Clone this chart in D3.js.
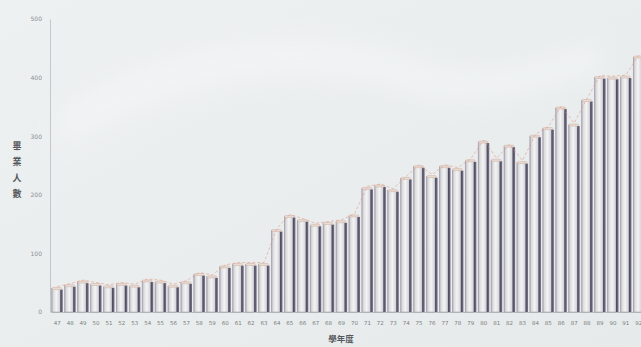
<!DOCTYPE html>
<html><head><meta charset="utf-8">
<script src="https://cdn.jsdelivr.net/npm/d3@7"></script>
<style>
html,body{margin:0;padding:0;background:#e8eced;}
svg{display:block;}
</style></head>
<body>
<svg id="chart" width="641" height="347"></svg>
<script>
const years = ["47","48","49","50","51","52","53","54","55","56","57","58","59","60","61","62","63","64","65","66","67","68","69","70","71","72","73","74","75","76","77","78","79","80","81","82","83","84","85","86","87","88","89","90","91","92"];
const graduates = [40,45,51,47,43,47,44,53,51,44,50,64,60,77,81,81,81,139,163,156,148,151,154,164,211,215,207,228,248,231,248,243,258,290,259,283,255,300,313,348,319,361,400,399,401,435];
const yTicks = [0,100,200,300,400,500];
const yTitle = ["畢","業","人","數"];
const xTitle = "學年度";

const svg = d3.select("#chart");
const W = 641, H = 347;

// background
const defs = svg.append("defs");
const bg = defs.append("linearGradient").attr("id","bg").attr("x1","0").attr("y1","0").attr("x2","1").attr("y2","1");
bg.append("stop").attr("offset","0").attr("stop-color","#eef1f1");
bg.append("stop").attr("offset","1").attr("stop-color","#e6eaeb");
svg.append("rect").attr("width",W).attr("height",H).attr("fill","url(#bg)");
const blur = defs.append("filter").attr("id","blur").attr("x","-50%").attr("y","-50%").attr("width","200%").attr("height","200%");
blur.append("feGaussianBlur").attr("stdDeviation",12);
svg.append("path").attr("d","M60,110 C160,40 300,20 420,60 C470,80 520,70 600,40 L600,70 C520,100 460,110 400,90 C300,60 170,80 60,150 Z")
  .attr("fill","#f6f8f8").attr("opacity",0.55).attr("filter","url(#blur)");

// face gradient
const fg = defs.append("linearGradient").attr("id","face").attr("x1","0").attr("x2","1").attr("y1","0").attr("y2","0");
fg.append("stop").attr("offset","0").attr("stop-color","#a8a4ae");
fg.append("stop").attr("offset","0.2").attr("stop-color","#dcdcdf");
fg.append("stop").attr("offset","0.55").attr("stop-color","#f4f4f4");
fg.append("stop").attr("offset","1").attr("stop-color","#cdd0d6");
const sg = defs.append("linearGradient").attr("id","side").attr("x1","0").attr("x2","1").attr("y1","0").attr("y2","0");
sg.append("stop").attr("offset","0").attr("stop-color","#4a445c");
sg.append("stop").attr("offset","1").attr("stop-color","#7a7488");

const x = d3.scaleBand().domain(years).range([51, 645]).paddingInner(0.14).paddingOuter(0.05);
const y = d3.scaleLinear().domain([0,500]).range([312, 19]);

// y axis
const yAxis = d3.axisLeft(y).tickValues(yTicks).tickSize(0).tickPadding(8);
const gy = svg.append("g").attr("transform","translate(50,0)").call(yAxis);
gy.select(".domain").attr("stroke","#c2c8ca").attr("stroke-width",1);
gy.selectAll("text").attr("fill","#8a8e90").style("font-family","DejaVu Sans, sans-serif").style("font-size","6px");

// x axis
const xAxis = d3.axisBottom(x).tickSize(0).tickPadding(9);
const gx = svg.append("g").attr("transform","translate(0,312)").call(xAxis);
gx.select(".domain").attr("stroke","#b8bcbe");
gx.selectAll("text").attr("fill","#7a7e82").style("font-family","DejaVu Sans, sans-serif").style("font-size","5.5px");

// bars
const bw = x.bandwidth();
const sideW = 2.5;
const data = years.map((yr,i)=>({yr, v: graduates[i]}));
const bars = svg.append("g").selectAll("g").data(data).join("g");
bars.append("rect")
  .attr("x", d=>x(d.yr)).attr("y", d=>y(d.v))
  .attr("width", bw - sideW).attr("height", d=>y(0)-y(d.v))
  .attr("fill","url(#face)").attr("stroke","#9a96a2").attr("stroke-width",0.5);
bars.append("rect")
  .attr("x", d=>x(d.yr)+bw-sideW).attr("y", d=>y(d.v)+1)
  .attr("width", sideW).attr("height", d=>y(0)-y(d.v)-1)
  .attr("fill","url(#side)");
bars.append("rect")
  .attr("x", d=>x(d.yr)+0.3).attr("y", d=>y(d.v)-1)
  .attr("width", bw-1.5).attr("height", 2)
  .attr("rx",1)
  .attr("fill","#e8dcd6").attr("stroke","#cfae9f").attr("stroke-width",0.5);

// trend line across tops
const line = d3.line().x(d=>x(d.yr)+bw/2).y(d=>y(d.v)-2).curve(d3.curveLinear);
svg.append("path").datum(data).attr("d",line)
  .attr("fill","none").attr("stroke","#e39a88").attr("stroke-width",0.8)
  .attr("stroke-dasharray","3,2").attr("opacity",0.75);

// titles
svg.append("g").selectAll("text").data(yTitle).join("text")
  .attr("x",17).attr("y",(d,i)=>149 + i*16)
  .attr("text-anchor","middle")
  .attr("fill","#55575c")
  .style("font-family","Noto Sans CJK TC, sans-serif").style("font-size","9px").style("font-weight","bold")
  .text(d=>d);
svg.append("text").attr("x",341).attr("y",342).attr("text-anchor","middle")
  .attr("fill","#55575c")
  .style("font-family","Noto Sans CJK TC, sans-serif").style("font-size","8.5px").style("font-weight","bold")
  .text(xTitle);
</script>
</body></html>
